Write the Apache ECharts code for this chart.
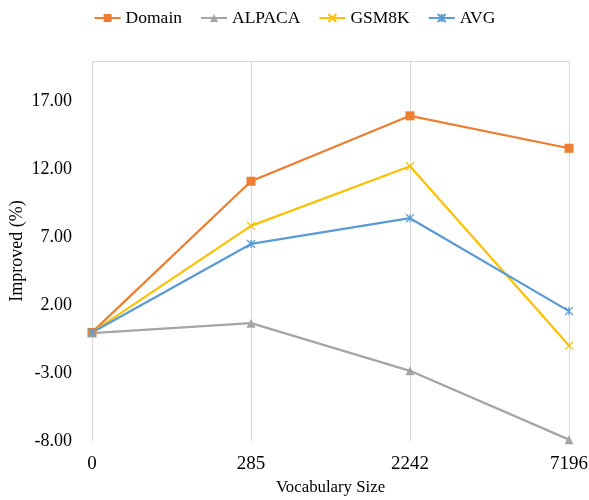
<!DOCTYPE html>
<html><head><meta charset="utf-8">
<script src="https://cdn.jsdelivr.net/npm/echarts@6/dist/echarts.min.js"></script>
<style>html,body{margin:0;padding:0;background:#fff}#c{width:589px;height:500px}</style>
</head><body><div id="c"></div>
<script>
const categories = ['0', '285', '2242', '7196'];
const domain = [0.0, 11.14, 15.96, 13.57];
const alpaca = [-0.05, 0.68, -2.83, -7.9];
const gsm8k = [0.0, 7.85, 12.25, -0.97];
const avg = [0.0, 6.52, 8.42, 1.57];
const yTicks = [-8, -3, 2, 7, 12, 17];

const font = '"Liberation Serif", "Times New Roman", serif';
const chart = echarts.init(document.getElementById('c'));
const xPath = 'path://M0,0L10,10M10,0L0,10';
const starPath = 'path://M0,0L10,10M10,0L0,10M5,0L5,10';
function mk(name, data, color, symbol, size, stroke) {
  return {
    name, type: 'line', data, symbol, symbolSize: size,
    lineStyle: { color, width: 2.25 },
    itemStyle: stroke ? { color: 'transparent', borderColor: color, borderWidth: 1.3 } : { color },
    emphasis: { disabled: true }, animation: false
  };
}
chart.setOption({
  animation: false,
  textStyle: { fontFamily: font },
  legend: {
    top: 4, left: 'center', itemWidth: 26, itemHeight: 10, itemGap: 18,
    textStyle: { fontFamily: font, fontSize: 17.5, color: '#000' },
    data: ['Domain', 'ALPACA', 'GSM8K', 'AVG']
  },
  grid: { left: 92, right: 20, top: 61, bottom: 59, outerBoundsMode: 'none', containLabel: false },
  xAxis: [{
    type: 'category', data: categories, boundaryGap: false,
    axisLine: { show: false }, axisTick: { show: false },
    axisLabel: { fontFamily: font, fontSize: 19, color: '#000', margin: 14 },
    splitLine: { show: true, lineStyle: { color: '#d9d9d9', width: 1 } },
    name: 'Vocabulary Size', nameLocation: 'middle', nameGap: 38, nameMoveOverlap: false,
    nameTextStyle: { fontFamily: font, fontSize: 16.8, color: '#000' }
  }, {
    type: 'category', data: categories, boundaryGap: false, position: 'top',
    axisLine: { show: true, lineStyle: { color: '#d9d9d9', width: 1 } },
    axisTick: { show: false }, axisLabel: { show: false }, splitLine: { show: false }
  }],
  yAxis: {
    type: 'value', min: yTicks[0], max: 20, interval: 5,
    axisLine: { show: false }, axisTick: { show: false },
    splitLine: { show: false },
    axisLabel: {
      fontFamily: font, fontSize: 18, color: '#000', margin: 20,
      formatter: v => yTicks.includes(v) ? v.toFixed(2) : ''
    },
    name: 'Improved (%)', nameLocation: 'middle', nameGap: 66, nameMoveOverlap: false,
    nameTextStyle: { fontFamily: font, fontSize: 18, color: '#000' }
  },
  series: [
    mk('Domain', domain, '#ED7D31', 'rect', 9, false),
    mk('ALPACA', alpaca, '#A5A5A5', 'triangle', 9, false),
    mk('GSM8K', gsm8k, '#FFC000', xPath, 8, true),
    mk('AVG', avg, '#5B9BD5', starPath, 8, true)
  ]
});
</script></body></html>
